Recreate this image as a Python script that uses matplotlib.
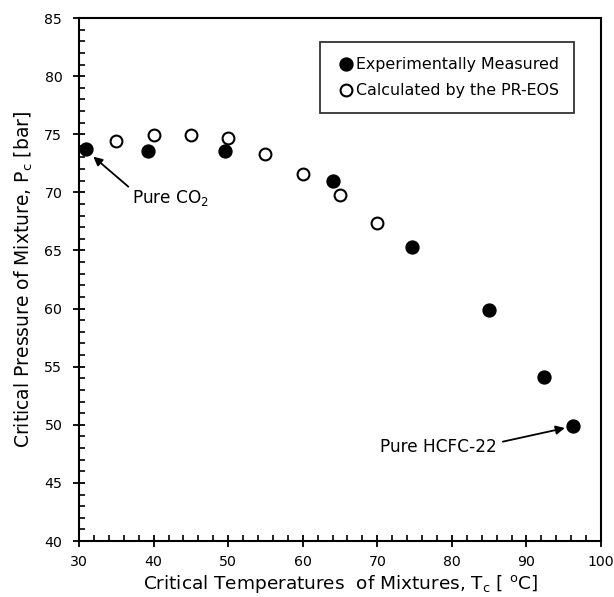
import matplotlib
matplotlib.use("Agg")
import matplotlib.pyplot as plt
from matplotlib.ticker import MultipleLocator

# Data
exp_T = [31.0, 39.3, 49.6, 64.0, 74.7, 85.0, 92.4, 96.3]
exp_P = [73.7, 73.6, 73.6, 71.0, 65.3, 59.9, 54.1, 49.9]
calc_T = [35.0, 40.0, 45.0, 50.0, 55.0, 60.0, 65.0, 70.0]
calc_P = [74.45, 74.9, 74.9, 74.65, 73.3, 71.55, 69.75, 67.4]

xticks = [30, 40, 50, 60, 70, 80, 90, 100]
yticks = [40, 45, 50, 55, 60, 65, 70, 75, 80, 85]

plt.rcParams['font.family'] = ['DejaVu Sans']
plt.rcParams['mathtext.default'] = 'regular'

fig = plt.figure(figsize=(6.14, 5.97), dpi=100)
ax = fig.add_axes([0.1287, 0.0938, 0.8502, 0.876])

ax.plot(exp_T, exp_P, 'o', color='black', markersize=9.3, linestyle='none',
        label='Experimentally Measured', zorder=3)
ax.plot(calc_T, calc_P, 'o', markerfacecolor='white', markeredgecolor='black',
        markeredgewidth=1.5, markersize=8.5, linestyle='none',
        label='Calculated by the PR-EOS', zorder=3)

ax.set_xlim(30, 100)
ax.set_ylim(40, 85)
ax.set_xticks(xticks)
ax.set_yticks(yticks)
ax.xaxis.set_minor_locator(MultipleLocator(2))
ax.yaxis.set_minor_locator(MultipleLocator(1))
ax.tick_params(which='major', direction='inout', length=9, width=1.3,
               labelsize=10.2, color='black')
ax.tick_params(axis='x', which='major', pad=5.5)
ax.tick_params(axis='y', which='major', pad=7.5)
ax.tick_params(which='minor', direction='in', length=4, width=1.2)
for s in ax.spines.values():
    s.set_linewidth(1.5)

ax.set_xlabel('Critical Temperatures  of Mixtures, T$_c$ [ $^o$C]', fontsize=13.3, labelpad=3)
ax.set_ylabel('Critical Pressure of Mixture, P$_c$ [bar]', fontsize=13.5, labelpad=7)

leg = ax.legend(loc='upper left', bbox_to_anchor=(0.4617, 0.954), fontsize=11.4,
                frameon=True, fancybox=False, edgecolor='black',
                handlelength=1.4, handletextpad=-0.05, borderpad=0.95,
                labelspacing=0.7, borderaxespad=0)
leg.get_frame().set_linewidth(1.3)

# annotations
ax.text(37.14, 69.06, 'Pure CO$_2$', fontsize=12.2, ha='left', va='baseline')
ax.annotate('', xy=(31.92, 73.07), xytext=(36.61, 70.49),
            arrowprops=dict(arrowstyle='-|>', color='black', lw=1.3,
                            mutation_scale=13, shrinkA=0, shrinkB=0))
ax.text(70.35, 47.63, 'Pure HCFC-22', fontsize=12.2, ha='left', va='baseline')
ax.annotate('', xy=(95.15, 49.72), xytext=(86.84, 48.55),
            arrowprops=dict(arrowstyle='-|>', color='black', lw=1.3,
                            mutation_scale=13, shrinkA=0, shrinkB=0))

fig.savefig('out.png', dpi=100)
